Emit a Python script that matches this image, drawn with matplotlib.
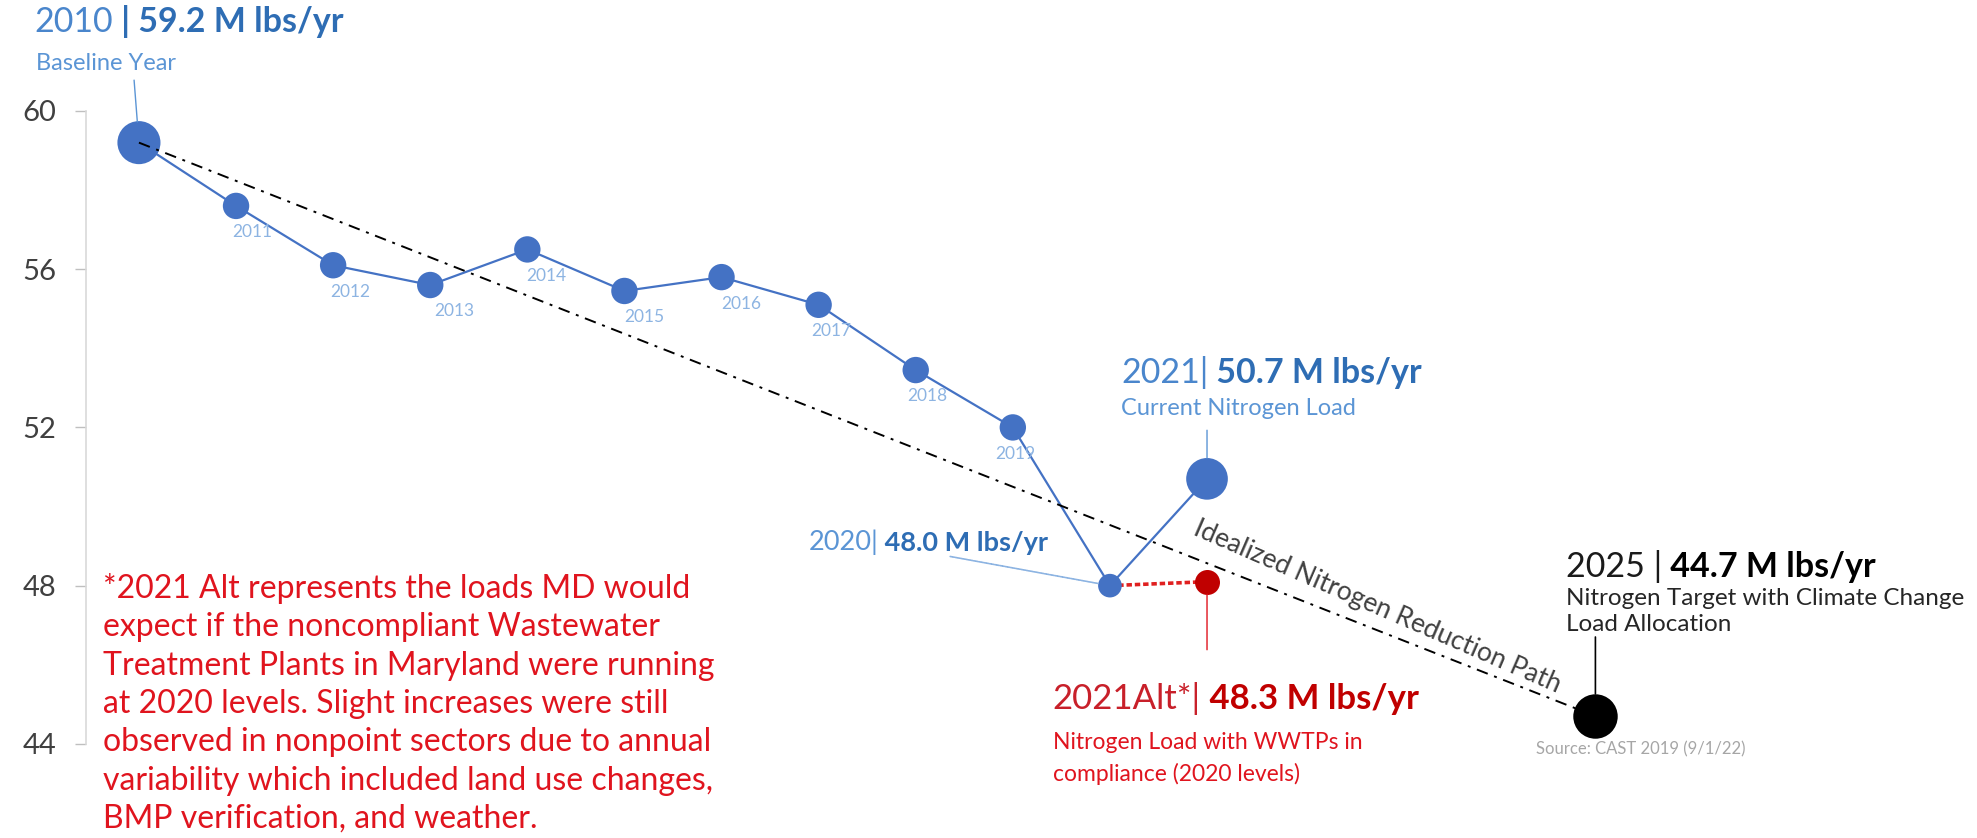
import matplotlib
matplotlib.use('Agg')
import matplotlib.pyplot as plt
import numpy as np

plt.rcParams['font.family'] = ['Lato', 'DejaVu Sans']

# data (million lbs N / yr)
years = [2010, 2011, 2012, 2013, 2014, 2015, 2016, 2017, 2018, 2019, 2020, 2021]
loads = [59.2, 57.6, 56.1, 55.6, 56.5, 55.45, 55.8, 55.1, 53.45, 52.0, 48.0, 50.7]
dot_sizes = [31, 19, 19, 19, 19, 19, 19, 19, 19, 19, 17, 30]
alt_year = 2021
alt_load = 48.1
target_year = 2025
target_load = 44.7
yticks = [44, 48, 52, 56, 60]

# label offsets (points) for the small year labels
year_lbl_dx = [0, 12, 12, 17, 14, 14, 14, 9, 8, 2]

blue = '#4472c4'
lblue = '#8db4e2'
tblue = '#4a86cc'
bblue = '#2e6db4'
sblue = '#5b95d5'
red = '#c00000'
tred = '#e0141e'

fig = plt.figure(figsize=(19.77, 8.38), dpi=100)
ax = fig.add_axes([0, 0, 1, 1])
ax.set_xlim(2008.569, 2028.93)
ax.set_ylim(41.62, 62.806)

for s in ['top', 'right', 'bottom']:
    ax.spines[s].set_visible(False)
ax.spines['left'].set_position(('data', 2009.45))
ax.spines['left'].set_bounds(44, 60)
ax.spines['left'].set_color('#d9d9d9')
ax.spines['left'].set_linewidth(1.2)
ax.xaxis.set_visible(False)
ax.set_yticks(yticks)
ax.tick_params(axis='y', direction='out', length=8, width=1, color='#bfbfbf',
               labelsize=21, labelcolor='#404040', pad=13)
ax.patch.set_alpha(0)

# main series
ax.plot(years, loads, color=blue, lw=1.6, zorder=2)
ax.scatter(years, loads, s=np.array(dot_sizes) ** 2, color=blue, zorder=3, linewidths=0)

# idealized path
ax.plot([years[0], target_year], [loads[0], target_load], color='black', lw=1.4,
        ls=(0, (6, 3.5, 1.5, 3.5)), zorder=4)

# 2021 alt
ax.plot([years[-2], alt_year], [loads[-2], alt_load], color='#e02020', lw=2.6,
        ls=(0, (1.5, 0.8)), zorder=2)
ax.scatter([alt_year], [alt_load], s=18 ** 2, color=red, zorder=3, linewidths=0)

# target
ax.scatter([target_year], [target_load], s=32 ** 2, color='black', zorder=3, linewidths=0)

# year labels
for i in range(1, 10):
    ax.annotate(str(years[i]), xy=(years[i], loads[i]), xytext=(year_lbl_dx[i], -19),
                textcoords='offset points', ha='center', va='center',
                fontsize=12.5, color=lblue)


def rich(parts, xy, offset):
    prev = ax.annotate(parts[0][0], xy=xy, xytext=offset, textcoords='offset points',
                       va='baseline', ha='left', **parts[0][1])
    for s, st in parts[1:]:
        prev = ax.annotate(s, xy=(1, 0), xycoords=prev, va='bottom', ha='left', **st)


def leader(xy, offset, shrink, **kw):
    ax.annotate('', xy=xy, xytext=offset, textcoords='offset points',
                arrowprops=dict(arrowstyle='-', shrinkA=0, shrinkB=shrink, **kw))


# 2010
rich([('2010', dict(fontsize=24.5, color=tblue)),
      (' | 59.2 M lbs/yr', dict(fontsize=24.5, color=bblue, fontweight='bold'))],
     (years[0], loads[0]), (-75, 80))
ax.annotate('Baseline Year', xy=(years[0], loads[0]), xytext=(-74, 52),
            textcoords='offset points', fontsize=17, color=sblue, va='baseline')
leader((years[0], loads[0]), (-3.5, 45), 15, color=sblue, lw=1)

# 2021
rich([('2021|', dict(fontsize=24.5, color=tblue)),
      (' 50.7 M lbs/yr', dict(fontsize=24.5, color=bblue, fontweight='bold'))],
     (years[-1], loads[-1]), (-62, 69))
ax.annotate('Current Nitrogen Load', xy=(years[-1], loads[-1]), xytext=(-62, 46),
            textcoords='offset points', fontsize=17, color=sblue, va='baseline')
leader((years[-1], loads[-1]), (0, 35), 15, color=sblue, lw=1)

# 2020
rich([('2020|', dict(fontsize=19.5, color=sblue)),
      (' 48.0 M lbs/yr', dict(fontsize=19.5, color=bblue, fontweight='bold'))],
     (years[-2], loads[-2]), (-217, 26))
leader((years[-2], loads[-2]), (-115, 21), 9, color=lblue, lw=1.2, ls=(0, (1, 0.6)))

# 2021 alt
rich([('2021Alt*|', dict(fontsize=25, color='#c8202a')),
      (' 48.3 M lbs/yr', dict(fontsize=25, color=red, fontweight='bold'))],
     (alt_year, alt_load), (-111, -92))
ax.annotate('Nitrogen Load with WWTPs in\ncompliance (2020 levels)', xy=(alt_year, alt_load),
            xytext=(-111, -108), textcoords='offset points', fontsize=16.5, color=tred,
            va='top', linespacing=1.55)
leader((alt_year, alt_load), (0, -49), 9, color=tred, lw=1)

# 2025
rich([('2025 |', dict(fontsize=24.5, color='#1a1a1a')),
      (' 44.7 M lbs/yr', dict(fontsize=24.5, color='black', fontweight='bold'))],
     (target_year, target_load), (-21, 100))
ax.annotate('Nitrogen Target with Climate Change\nLoad Allocation', xy=(target_year, target_load),
            xytext=(-21, 92), textcoords='offset points', fontsize=17.5, color='#262626',
            va='top', linespacing=1.26)
leader((target_year, target_load), (0, 57), 16, color='black', lw=1.2)

# idealized path label
p1 = ax.transData.transform((years[0], loads[0]))
p2 = ax.transData.transform((target_year, target_load))
ang = np.degrees(np.arctan2(p2[1] - p1[1], p2[0] - p1[0]))
t = 0.845
mx = years[0] + t * (target_year - years[0])
my = loads[0] + t * (target_load - loads[0])
nrm = np.array([-np.sin(np.radians(ang)), np.cos(np.radians(ang))]) * 16
ax.annotate('Idealized Nitrogen Reduction Path', xy=(mx, my), xytext=tuple(nrm),
            textcoords='offset points', rotation=ang - 2, rotation_mode='anchor',
            ha='center', va='center', fontsize=19, color='#404040')

# footnote
note = ('*2021 Alt represents the loads MD would\n'
        'expect if the noncompliant Wastewater\n'
        'Treatment Plants in Maryland were running\n'
        'at 2020 levels. Slight increases were still\n'
        'observed in nonpoint sectors due to annual\n'
        'variability which included land use changes,\n'
        'BMP verification, and weather.')
ax.text(0.052, 0.316, note, transform=ax.transAxes, fontsize=23, color=tred,
        va='top', ha='left', linespacing=1.345)

ax.text(0.777, 0.100, 'Source: CAST 2019 (9/1/22)', transform=ax.transAxes,
        fontsize=12, color='#a6a6a6', va='baseline')

fig.savefig('out.png', dpi=100)
